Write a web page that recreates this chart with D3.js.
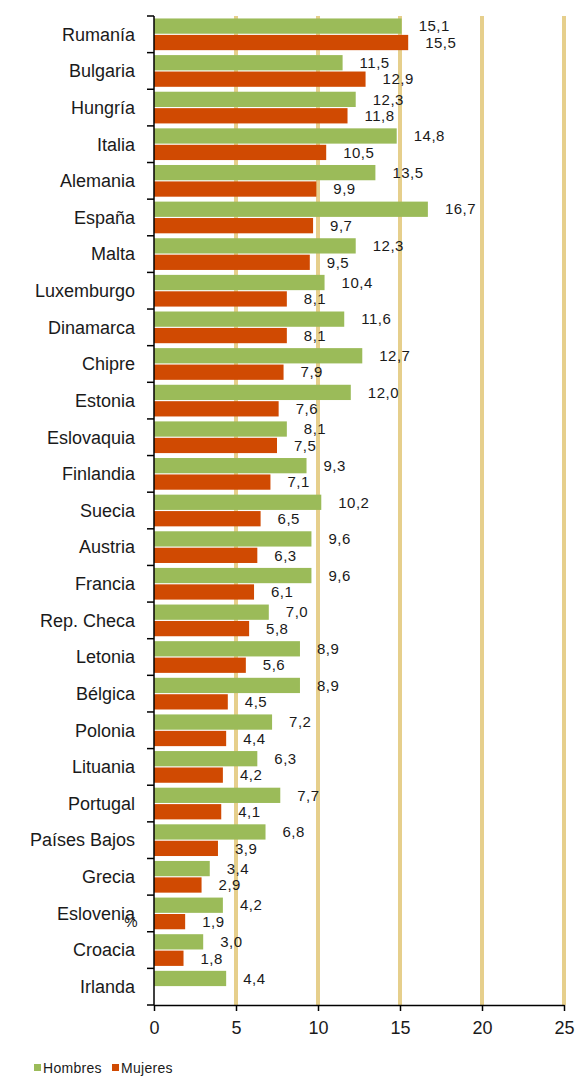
<!DOCTYPE html>
<html>
<head>
<meta charset="utf-8">
<script src="https://cdn.jsdelivr.net/npm/d3@7"></script>
<style>
  body { margin: 0; background: #fff; }
  svg text { font-family: "Liberation Sans", Arial, sans-serif; fill: #1a1a1a; }
</style>
</head>
<body>
<div id="chart"></div>
<script>
// categories, top to bottom
const countries = ["Rumanía", "Bulgaria", "Hungría", "Italia", "Alemania", "España", "Malta",
  "Luxemburgo", "Dinamarca", "Chipre", "Estonia", "Eslovaquia", "Finlandia", "Suecia",
  "Austria", "Francia", "Rep. Checa", "Letonia", "Bélgica", "Polonia", "Lituania",
  "Portugal", "Países Bajos", "Grecia", "Eslovenia", "Croacia", "Irlanda"];
const hombres = [15.1, 11.5, 12.3, 14.8, 13.5, 16.7, 12.3, 10.4, 11.6, 12.7, 12.0, 8.1, 9.3,
  10.2, 9.6, 9.6, 7.0, 8.9, 8.9, 7.2, 6.3, 7.7, 6.8, 3.4, 4.2, 3.0, 4.4];
const mujeres = [15.5, 12.9, 11.8, 10.5, 9.9, 9.7, 9.5, 8.1, 8.1, 7.9, 7.6, 7.5, 7.1,
  6.5, 6.3, 6.1, 5.8, 5.6, 4.5, 4.4, 4.2, 4.1, 3.9, 2.9, 1.9, 1.8, null];
const xTicks = [0, 5, 10, 15, 20, 25];
const seriesNames = ["Hombres", "Mujeres"];
const colors = { Hombres: "#9bbb59", Mujeres: "#d04a02" };

const W = 579, H = 1079;
const svg = d3.select("#chart").append("svg").attr("width", W).attr("height", H);

const x = d3.scaleLinear().domain([0, 25]).range([154, 564]);
const y0 = d3.scaleBand().domain(countries).range([16, 1005]);
const y1 = d3.scaleBand().domain(seriesNames).range([0, y0.bandwidth()])
  .paddingInner(0.07).paddingOuter(0.15);

const rows = countries.map((c, i) => ({ country: c, Hombres: hombres[i], Mujeres: mujeres[i] }));

// gridlines
svg.append("g")
  .selectAll("line")
  .data(xTicks.filter(d => d > 0))
  .join("line")
  .attr("x1", d => x(d)).attr("x2", d => x(d))
  .attr("y1", 16).attr("y2", 1005)
  .attr("stroke", "#e6cf8c")
  .attr("stroke-width", 4);

// bars
const groups = svg.append("g")
  .selectAll("g")
  .data(rows)
  .join("g")
  .attr("transform", d => `translate(0,${y0(d.country)})`);

const items = groups.selectAll("g")
  .data(d => seriesNames.filter(k => d[k] != null).map(k => ({ key: k, value: d[k] })))
  .join("g");

items.append("rect")
  .attr("x", x(0))
  .attr("y", d => y1(d.key))
  .attr("width", d => x(d.value) - x(0))
  .attr("height", y1.bandwidth())
  .attr("fill", d => colors[d.key]);

items.append("text")
  .attr("x", d => x(d.value) + 17)
  .attr("y", d => y1(d.key) + y1.bandwidth() / 2)
  .attr("dy", "0.35em")
  .style("font-size", "15px")
  .style("letter-spacing", "0.5px")
  .text(d => d.value.toFixed(1).replace(".", ","));

// y axis
const yAxis = svg.append("g").attr("transform", `translate(${x(0)},0)`);
yAxis.append("line")
  .attr("x1", 0).attr("x2", 0).attr("y1", 16).attr("y2", 1005)
  .attr("stroke", "#000").attr("stroke-width", 1.5);
yAxis.selectAll("line.tk")
  .data(countries.map(c => y0(c)).concat([1005]))
  .join("line")
  .attr("class", "tk")
  .attr("x1", -7).attr("x2", 0)
  .attr("y1", d => d).attr("y2", d => d)
  .attr("stroke", "#000").attr("stroke-width", 1.5);
yAxis.selectAll("text")
  .data(countries)
  .join("text")
  .attr("x", -19)
  .attr("y", d => y0(d) + y0.bandwidth() / 2)
  .attr("dy", "0.35em")
  .attr("text-anchor", "end")
  .style("font-size", "18px")
  .text(d => d);

// x axis
const xAxis = svg.append("g")
  .attr("transform", "translate(0,1005)")
  .call(d3.axisBottom(x).tickValues(xTicks).tickSize(6).tickSizeOuter(0).tickPadding(10));
xAxis.select(".domain").attr("stroke", "#000").attr("stroke-width", 1.5);
xAxis.selectAll(".tick line").attr("stroke", "#000").attr("stroke-width", 1.5);
xAxis.selectAll("text")
  .style("font-size", "18px")
  .attr("fill", "#1a1a1a")
  .style("font-family", "Liberation Sans, Arial, sans-serif");

// stray axis title
svg.append("text")
  .attr("x", 131).attr("y", 927)
  .attr("text-anchor", "middle")
  .style("font-size", "15px")
  .text("%");

// legend
const legend = svg.append("g").attr("transform", "translate(34,1068)");
const leg = legend.selectAll("g")
  .data(seriesNames)
  .join("g")
  .attr("transform", (d, i) => `translate(${i * 78},0)`);
leg.append("rect")
  .attr("x", 0).attr("y", -4).attr("width", 7).attr("height", 7)
  .attr("fill", d => colors[d]);
leg.append("text")
  .attr("x", 9).attr("y", 0).attr("dy", "0.35em")
  .style("font-size", "14px")
  .style("letter-spacing", "0.3px")
  .text(d => d);
</script>
</body>
</html>
